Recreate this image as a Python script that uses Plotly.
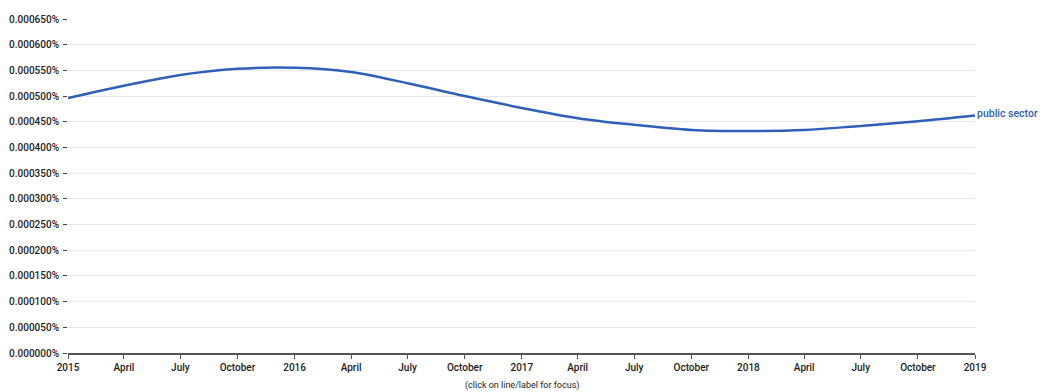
import plotly.graph_objects as go

# Data (percent values)
dates = ["2015-01-01", "2015-04-01", "2015-07-01", "2015-10-01",
         "2016-01-01", "2016-04-01", "2016-07-01", "2016-10-01",
         "2017-01-01", "2017-04-01", "2017-07-01", "2017-10-01",
         "2018-01-01", "2018-04-01", "2018-07-01", "2018-10-01",
         "2019-01-01"]
public_sector = [0.000496, 0.000520, 0.000541, 0.000553,
                 0.000555, 0.000547, 0.000525, 0.000500,
                 0.000477, 0.000457, 0.000444, 0.000434,
                 0.000432, 0.000434, 0.000442, 0.000451,
                 0.000462]

x_tick_vals = dates
x_tick_text = ["2015", "April", "July", "October",
               "2016", "April", "July", "October",
               "2017", "April", "July", "October",
               "2018", "April", "July", "October", "2019"]
y_tick_vals = [i * 0.00005 for i in range(14)]
y_tick_text = [f"{v:.6f}%" for v in y_tick_vals]

font_family = "Roboto, Liberation Sans, Arial, sans-serif"
blue = "#2f5fb8"

fig = go.Figure()
fig.add_trace(go.Scatter(
    x=dates, y=public_sector, mode="lines",
    line=dict(color=blue, width=2.5, shape="spline", smoothing=1.0),
    name="public sector", hoverinfo="x+y",
))

fig.add_annotation(
    x=dates[-1], y=public_sector[-1], xref="x", yref="y",
    text="public sector", showarrow=False, xanchor="left", yanchor="middle",
    xshift=0, yshift=2,
    font=dict(family=font_family, size=10.5, color=blue, weight=500),
)
fig.add_annotation(
    x=0.5, y=-0.096, xref="paper", yref="paper",
    text="(click on line/label for focus)", showarrow=False,
    xanchor="center", yanchor="middle",
    font=dict(family=font_family, size=9, color="#222"),
)

fig.update_layout(
    width=1039, height=384,
    margin=dict(l=60, r=72, t=11, b=39, autoexpand=False),
    paper_bgcolor="white", plot_bgcolor="white",
    showlegend=False,
    font=dict(family=font_family, size=10, color="#333"),
    xaxis=dict(
        type="date", range=["2015-01-01", "2019-01-01"],
        tickmode="array", tickvals=x_tick_vals, ticktext=x_tick_text,
        showgrid=False, showline=True, linecolor="#555", linewidth=1.5,
        ticks="outside", ticklen=4, tickcolor="#555", tickwidth=1,
        tickfont=dict(family=font_family, size=10, color="#222", weight=500),
        zeroline=False, fixedrange=True, automargin=False,
    ),
    yaxis=dict(
        range=[0, 0.00065],
        tickmode="array", tickvals=y_tick_vals, ticktext=y_tick_text,
        showgrid=True, gridcolor="#e8e8e8", gridwidth=1,
        showline=False, zeroline=False,
        ticks="outside", ticklen=4, tickcolor="#444", tickwidth=1,
        ticklabelstandoff=2,
        tickfont=dict(family=font_family, size=10, color="#222", weight=500),
        fixedrange=True, automargin=False,
    ),
)

fig.write_html("out.html")
